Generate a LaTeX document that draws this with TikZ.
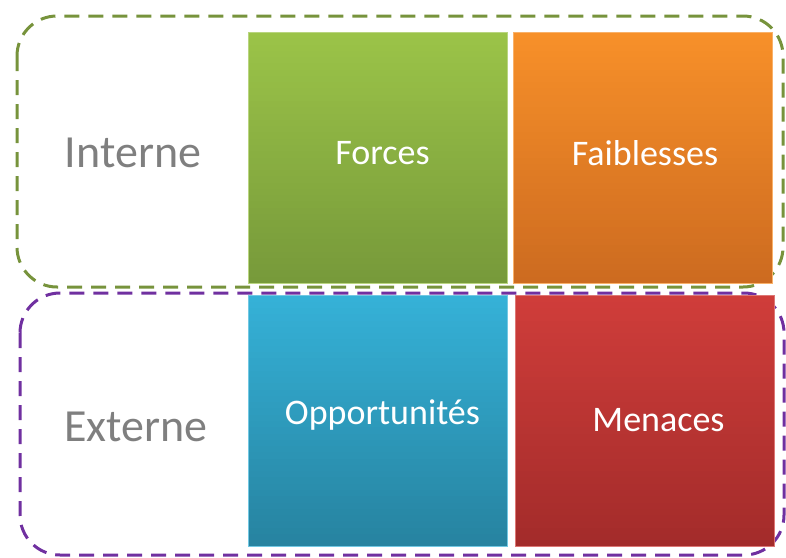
\documentclass[tikz,border=0pt]{standalone}
\usepackage{fontspec}
\setmainfont{Carlito}
\definecolor{vertcadre}{HTML}{77933C}
\definecolor{violetcadre}{HTML}{7030A0}
\definecolor{grisexte}{HTML}{7F7F7F}
\definecolor{vertA}{RGB}{155,195,72}
\definecolor{vertB}{RGB}{118,153,58}
\definecolor{orangeA}{RGB}{247,144,41}
\definecolor{orangeB}{RGB}{204,106,32}
\definecolor{bleuA}{RGB}{53,177,215}
\definecolor{bleuB}{RGB}{38,130,159}
\definecolor{rougeA}{RGB}{207,61,58}
\definecolor{rougeB}{RGB}{162,43,42}
% degrade vertical : x1 y1 x2 y2 couleur haut couleur bas
\newcommand{\degrade}[6]{
	\foreach \k in {0,...,39}{
		\pgfmathsetmacro{\pc}{100-2.5*\k}
		\pgfmathsetmacro{\kb}{min(\k+1.3,40)}
		\fill[#5!\pc!#6] (#1,{#2+(#4-#2)*\k/40}) rectangle (#3,{#2+(#4-#2)*\kb/40});
	}}
\tikzset{
	cadre/.style={line width=3pt,rounded corners=40pt,dash pattern=on 15pt off 9pt},
	bloc/.style={minimum width=259pt,minimum height=251pt,inner sep=0pt,line width=0.8pt},
	titre/.style={text=white,font=\fontsize{36}{40}\selectfont},
	cote/.style={text=grisexte,font=\fontsize{46}{50}\selectfont}
}

\begin{document}
\begin{tikzpicture}[x=1pt,y=-1pt]
					\useasboundingbox (0,0) rectangle (786,557);
					%CADRES
					\draw[cadre,vertcadre] (17,16) rectangle (783,287);
					\draw[cadre,violetcadre] (20,293) rectangle (784,555);
					%BLOCS
					\degrade{248}{32}{507}{283}{vertA}{vertB}
					\degrade{513.5}{32}{772.5}{283}{orangeA}{orangeB}
					\degrade{248}{295.5}{507}{546.5}{bleuA}{bleuB}
					\degrade{515}{295.5}{774}{546.5}{rougeA}{rougeB}
					\node[bloc,draw=vertA!70!white] (forces) at (377.5,157.5) {};
					\node[bloc,draw=orangeA!70!white] (faiblesses) at (643,157.5) {};
					\node[bloc,draw=bleuA!70!white] (opport) at (377.5,421) {};
					\node[bloc,draw=rougeA!70!white] (menaces) at (644.5,421) {};
					%TEXTES
					\node[titre,xshift=5pt,yshift=4pt] (tforces) at (forces) {Forces};
					\node[titre,xshift=2pt,yshift=4pt] (tfaiblesses) at (faiblesses) {Faiblesses};
					\node[titre,xshift=5pt,yshift=6pt] (topport) at (opport) {Opportunités};
					\node[titre,xshift=14pt,yshift=1pt] (tmenaces) at (menaces) {Menaces};
					\node[cote] (interne) at (133,153) {Interne};
					\node[cote] (externe) at (136,427) {Externe};
\end{tikzpicture}
\end{document}
